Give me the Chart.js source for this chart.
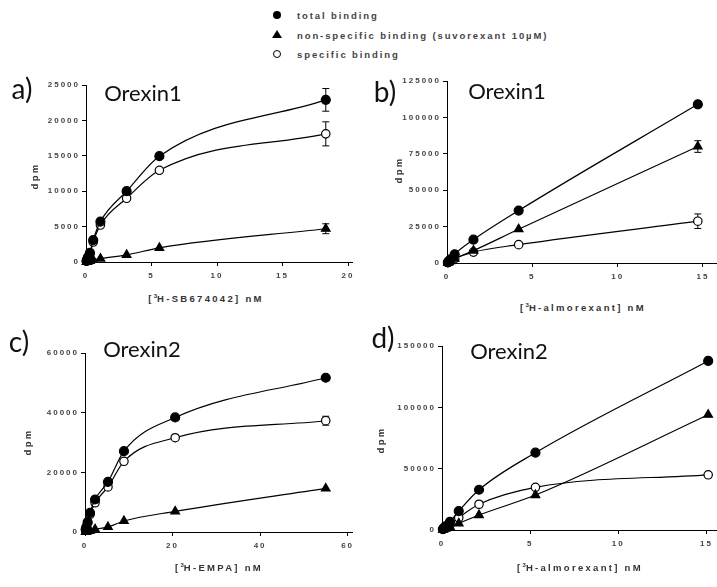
<!DOCTYPE html>
<html>
<head>
<meta charset="utf-8">
<script src="https://cdn.jsdelivr.net/npm/chart.js@4.4.1/dist/chart.umd.min.js"></script>
<style>
  html, body { margin: 0; padding: 0; background: #fff; overflow: hidden; }
  body { width: 717px; height: 587px; position: relative; }
  canvas { position: absolute; }
  .t { position: absolute; white-space: nowrap; transform: translate(-50%, -50%); color: #333; }
  .ax { font: bold 9.5px "Liberation Sans", Arial, sans-serif; letter-spacing: 2.3px; }
  .ax sup { font-size: 6px; vertical-align: 4px; line-height: 0; letter-spacing: 0; }
  .dpm { transform: translate(-50%, -50%) rotate(-90deg); }
  .lab { font: 28px Lato, sans-serif; color: #111; line-height: 1; }
  .rec { font: 22px Lato, sans-serif; color: #111; line-height: 1; }
  .leg { position: absolute; left: 297px; font: bold 9.5px "Liberation Sans", Arial, sans-serif; letter-spacing: 1.9px; color: #444; transform: translateY(-50%); white-space: nowrap; }
  .mk { position: absolute; }
</style>
</head>
<body>

<!-- shared legend -->
<div class="mk" style="left:273px;top:11px;width:8px;height:8px;border-radius:50%;background:#000;"></div>
<div class="mk" style="left:272px;top:30px;width:0;height:0;border-left:5px solid transparent;border-right:5px solid transparent;border-bottom:8px solid #000;"></div>
<div class="mk" style="left:273px;top:50px;width:6px;height:6px;border-radius:50%;border:1.2px solid #000;"></div>
<div class="leg" style="top:15px;">total binding</div>
<div class="leg" style="top:35px;">non-specific binding (suvorexant 10µM)</div>
<div class="leg" style="top:54px;">specific binding</div>

<canvas id="chartA"></canvas>
<canvas id="chartB"></canvas>
<canvas id="chartC"></canvas>
<canvas id="chartD"></canvas>

<div class="t lab" style="left:22px;top:88px;">a)</div>
<div class="t lab" style="left:385px;top:91px;">b)</div>
<div class="t lab" style="left:19px;top:341px;">c)</div>
<div class="t lab" style="left:383px;top:337px;">d)</div>

<div class="t rec" style="left:143px;top:93px;">Orexin1</div>
<div class="t rec" style="left:507px;top:91px;">Orexin1</div>
<div class="t rec" style="left:142px;top:349px;">Orexin2</div>
<div class="t rec" style="left:509px;top:351px;">Orexin2</div>

<div class="t ax dpm" style="left:34px;top:176px;">dpm</div>
<div class="t ax dpm" style="left:398px;top:170px;">dpm</div>
<div class="t ax dpm" style="left:27px;top:442px;">dpm</div>
<div class="t ax dpm" style="left:380px;top:440px;">dpm</div>

<div class="t ax" style="left:206px;top:298px;">[<sup>3</sup>H-SB674042] nM</div>
<div class="t ax" style="left:583px;top:307px;">[<sup>3</sup>H-almorexant] nM</div>
<div class="t ax" style="left:219px;top:567px;">[<sup>3</sup>H-EMPA] nM</div>
<div class="t ax" style="left:580px;top:567px;">[<sup>3</sup>H-almorexant] nM</div>

<script>
// a) Orexin1, [3H-SB674042]
const aX = [0.04, 0.08, 0.15, 0.3, 0.55, 1.1, 3.1, 5.6, 18.3];
const aTotal = [150, 350, 700, 1300, 3100, 5700, 10000, 14950, 22900];
const aNonspec = [20, 40, 80, 150, 280, 480, 1000, 2000, 4700];
const aSpecific = [130, 310, 620, 1150, 2820, 5220, 9000, 12950, 18100];
const aTotalErr = [0, 0, 0, 0, 0, 0, 0, 0, 1600];
const aNonspecErr = [0, 0, 0, 0, 0, 0, 0, 0, 700];
const aSpecificErr = [0, 0, 0, 0, 0, 0, 0, 0, 1700];

// b) Orexin1, [3H-almorexant]
const bX = [0.05, 0.1, 0.2, 0.45, 1.55, 4.2, 14.7];
const bTotal = [500, 1200, 2500, 6000, 16000, 36000, 109000];
const bNonspec = [250, 600, 1200, 3000, 8500, 23200, 80000];
const bSpecific = [250, 600, 1300, 3000, 7500, 12600, 28700];
const bTotalErr = [0, 0, 0, 0, 0, 0, 1500];
const bNonspecErr = [0, 0, 0, 0, 0, 0, 4000];
const bSpecificErr = [0, 0, 0, 0, 0, 0, 5000];

// c) Orexin2, [3H-EMPA]
const cX = [0.15, 0.3, 0.6, 1.15, 2.3, 5.25, 8.9, 20.6, 55];
const cTotal = [800, 1600, 3300, 6400, 10900, 16800, 27100, 38400, 51700];
const cNonspec = [50, 120, 250, 450, 900, 1700, 3700, 6900, 14600];
const cSpecific = [750, 1480, 3050, 5950, 9800, 15100, 23700, 31600, 37300];
const cTotalErr = [0, 0, 0, 0, 0, 0, 0, 0, 800];
const cNonspecErr = [0, 0, 0, 0, 0, 0, 0, 0, 0];
const cSpecificErr = [0, 0, 0, 0, 0, 0, 0, 0, 1500];

// d) Orexin2, [3H-almorexant]
const dX = [0.05, 0.1, 0.2, 0.45, 0.95, 2.1, 5.3, 15.1];
const dTotal = [800, 1500, 3000, 6700, 15400, 32800, 63000, 137800];
const dNonspec = [300, 600, 1200, 2600, 5400, 12200, 28500, 94000];
const dSpecific = [500, 900, 1800, 4100, 10000, 21000, 34800, 45000];
const dNoErr = [0, 0, 0, 0, 0, 0, 0, 0];

// error bars, drawn under the markers
const errorBars = {
  id: "errorBars",
  beforeDatasetsDraw(chart) {
    const ctx = chart.ctx;
    const ys = chart.scales.y;
    chart.data.datasets.forEach((ds, i) => {
      if (!ds.errors) return;
      const meta = chart.getDatasetMeta(i);
      ds.errors.forEach((e, j) => {
        if (!e) return;
        const p = meta.data[j];
        const v = ds.data[j].y;
        const top = ys.getPixelForValue(v + e);
        const bot = ys.getPixelForValue(v - e);
        ctx.save();
        ctx.strokeStyle = "#000";
        ctx.lineWidth = 1;
        ctx.beginPath();
        ctx.moveTo(p.x, top); ctx.lineTo(p.x, bot);
        ctx.moveTo(p.x - 3.5, top); ctx.lineTo(p.x + 3.5, top);
        ctx.moveTo(p.x - 3.5, bot); ctx.lineTo(p.x + 3.5, bot);
        ctx.stroke();
        ctx.restore();
      });
    });
  }
};

// spaced-out tick labels like the original
const spacing = {
  id: "spacing",
  beforeDraw(chart) { chart.ctx.letterSpacing = "2px"; }
};

const toPts = (xs, ys) => xs.map((x, i) => ({ x: x, y: ys[i] }));

const series = (label, xs, ys, errs, style, fill, radius) => ({
  label: label,
  data: toPts(xs, ys),
  errors: errs,
  showLine: true,
  cubicInterpolationMode: "monotone",
  borderColor: "#000",
  borderWidth: 1.2,
  pointStyle: style,
  pointRadius: radius,
  pointBackgroundColor: fill,
  pointBorderColor: "#000",
  pointBorderWidth: 1.2,
  clip: false
});

// ticks at every step up to the last whole step below the axis end
const stepTicks = (max, step) => {
  const out = [];
  for (let v = 0; v <= max + 1e-9; v += step) out.push({ value: v });
  return out;
};

// geometry of each panel's plot area in page pixels
const makePanel = (id, g, xs, total, nonspec, specific, errs) => {
  const yw = 60, xh = 30, padTop = 10, padRight = 8;
  const cv = document.getElementById(id);
  const left = g.left - yw, top = g.top - padTop;
  cv.width = g.right + padRight - left;
  cv.height = g.bottom + xh - top;
  cv.style.left = left + "px";
  cv.style.top = top + "px";

  const tickFont = { family: "'Liberation Sans', Arial, sans-serif", size: 8, weight: "bold" };
  const axisCommon = {
    type: "linear",
    min: 0,
    border: { display: true, color: "#000", width: 1 },
    grid: { display: true, drawOnChartArea: false, drawTicks: true, tickLength: 4, color: "#000" }
  };

  new Chart(cv.getContext("2d"), {
    type: "scatter",
    data: {
      datasets: [
        series("total binding", xs, total, errs[0], "circle", "#000", 4.5),
        series("non-specific binding (suvorexant 10µM)", xs, nonspec, errs[1], "triangle", "#000", 5),
        series("specific binding", xs, specific, errs[2], "circle", "#fff", 4.2)
      ]
    },
    options: {
      responsive: false,
      animation: false,
      layout: { padding: { top: padTop, right: padRight, left: 0, bottom: 0 } },
      plugins: { legend: { display: false }, tooltip: { enabled: false } },
      scales: {
        x: Object.assign({}, axisCommon, {
          max: g.xMax,
          ticks: { padding: 5, color: "#444", font: tickFont, maxRotation: 0, autoSkip: false, callback: v => String(v) },
          afterBuildTicks: s => { s.ticks = stepTicks(g.xMax, g.xStep); },
          afterFit: s => { s.height = xh; }
        }),
        y: Object.assign({}, axisCommon, {
          max: g.yMax,
          ticks: { padding: 2, color: "#444", font: tickFont, autoSkip: false, callback: v => String(v) },
          afterBuildTicks: s => { s.ticks = stepTicks(g.yMax, g.yStep); },
          afterFit: s => { s.width = yw; }
        })
      }
    },
    plugins: [errorBars, spacing]
  });
};

makePanel("chartA", { left: 86, top: 85, right: 352, bottom: 262, xMax: 20.3, xStep: 5, yMax: 25000, yStep: 5000 },
  aX, aTotal, aNonspec, aSpecific, [aTotalErr, aNonspecErr, aSpecificErr]);
makePanel("chartB", { left: 447, top: 81, right: 720, bottom: 263, xMax: 16, xStep: 5, yMax: 125000, yStep: 25000 },
  bX, bTotal, bNonspec, bSpecific, [bTotalErr, bNonspecErr, bSpecificErr]);
makePanel("chartC", { left: 85, top: 353, right: 352, bottom: 532, xMax: 61, xStep: 20, yMax: 60000, yStep: 20000 },
  cX, cTotal, cNonspec, cSpecific, [cTotalErr, cNonspecErr, cSpecificErr]);
makePanel("chartD", { left: 442, top: 346, right: 717.6, bottom: 530, xMax: 15.6, xStep: 5, yMax: 150000, yStep: 50000 },
  dX, dTotal, dNonspec, dSpecific, [dNoErr, dNoErr, dNoErr]);
</script>
</body>
</html>
